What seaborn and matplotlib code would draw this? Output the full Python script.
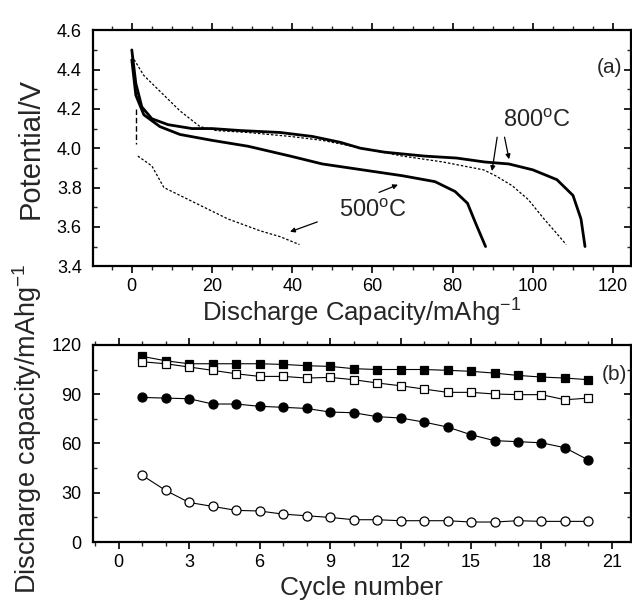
import matplotlib
matplotlib.use("Agg")
import matplotlib.pyplot as plt
import seaborn as sns
import pandas as pd
from matplotlib.ticker import MultipleLocator, FormatStrFormatter

# ---------------------------------------------
# DADOS (a) - curvas de descarga
# ---------------------------------------------
cap_800_solid = [0, 1, 2.5, 5, 9, 15, 20, 27, 37, 45, 52, 57, 63, 73, 81, 88, 94, 100, 106, 110, 112, 113]
pot_800_solid = [4.50, 4.33, 4.21, 4.15, 4.12, 4.10, 4.10, 4.09, 4.08, 4.06, 4.03, 4.00, 3.98, 3.96, 3.95, 3.93, 3.92, 3.89, 3.84, 3.76, 3.64, 3.50]

cap_500_solid = [0, 1, 3, 7, 12, 20, 29, 39.5, 47.5, 57.5, 67.5, 75.6, 80.6, 83.7, 85.7, 88.2]
pot_500_solid = [4.45, 4.27, 4.17, 4.11, 4.07, 4.04, 4.01, 3.96, 3.92, 3.89, 3.86, 3.83, 3.78, 3.72, 3.62, 3.50]

cap_800_dot = [0, 3, 7, 12, 17, 21, 29, 39.5, 47.5, 57.5, 67.5, 77.6, 87.7, 90.7, 94.8, 98.8, 102.8, 105.8, 108.3]
pot_800_dot = [4.47, 4.37, 4.29, 4.19, 4.11, 4.09, 4.08, 4.06, 4.04, 4.00, 3.96, 3.93, 3.89, 3.86, 3.81, 3.74, 3.64, 3.57, 3.51]

# 500 C pontilhada: trecho vertical inicial + queda
cap_500_vert = [1, 1]
pot_500_vert = [4.20, 4.02]
cap_500_dot = [1.5, 5, 8, 14, 20, 24, 32, 37, 41.8]
pot_500_dot = [3.96, 3.91, 3.80, 3.74, 3.68, 3.64, 3.58, 3.55, 3.51]

# ---------------------------------------------
# DADOS (b) - ciclagem
# ---------------------------------------------
ciclos = list(range(1, 21))
sq_cheio = [113, 110.3, 108.5, 108.5, 108.5, 108.5, 108.1, 107.3, 106.9, 105.5,
            105, 105, 105, 104.5, 103.9, 102.8, 101.4, 100.4, 99.8, 98.8]
sq_vazio = [109.7, 108.5, 106.5, 104.5, 102.4, 100.8, 100.8, 99.8, 100.2, 98.8,
            96.8, 95.1, 93.1, 91.1, 91.1, 90.1, 89.7, 89.7, 86.6, 87.6]
circ_cheio = [88, 87.6, 87.2, 84, 84, 82.6, 82, 81.3, 79.1, 78.7,
              76.3, 75.5, 73, 70, 65.3, 61.7, 61.1, 60.4, 57.4, 49.9]
circ_vazio = [40.6, 31.4, 24.1, 21.7, 19.3, 18.9, 17, 16, 15, 13.6,
              13.6, 13, 13, 13, 12.2, 12.2, 13, 12.6, 12.6, 12.6]

# ---------------------------------------------
# ESTILO
# ---------------------------------------------
sns.set_style("ticks")
plt.rcParams["font.family"] = ["Liberation Sans", "DejaVu Sans"]
plt.rcParams["mathtext.fontset"] = "custom"
plt.rcParams["mathtext.rm"] = "Liberation Sans"
plt.rcParams["mathtext.default"] = "rm"

fig = plt.figure(figsize=(6.32, 6.05), dpi=100)
ax1 = fig.add_axes([0.147, 0.560, 0.851, 0.390])
ax2 = fig.add_axes([0.147, 0.104, 0.851, 0.326])

# ---------------------------------------------
# (a)
# ---------------------------------------------
tracejado = (0, (2, 1.5))
sns.lineplot(x=cap_800_solid, y=pot_800_solid, ax=ax1, color="black", lw=2.0, sort=False, estimator=None)
sns.lineplot(x=cap_500_solid, y=pot_500_solid, ax=ax1, color="black", lw=2.0, sort=False, estimator=None)
sns.lineplot(x=cap_800_dot, y=pot_800_dot, ax=ax1, color="black", lw=0.9, ls=tracejado, sort=False, estimator=None)
sns.lineplot(x=cap_500_vert, y=pot_500_vert, ax=ax1, color="black", lw=1.0, ls=(0, (4, 2)), sort=False, estimator=None)
sns.lineplot(x=cap_500_dot, y=pot_500_dot, ax=ax1, color="black", lw=0.9, ls=tracejado, sort=False, estimator=None)

ax1.set_xlim(-9.7, 124.4)
ax1.set_ylim(3.4, 4.6)
ax1.xaxis.set_major_locator(MultipleLocator(20))
ax1.xaxis.set_minor_locator(MultipleLocator(5))
ax1.yaxis.set_major_locator(MultipleLocator(0.2))
ax1.yaxis.set_minor_locator(MultipleLocator(0.1))
ax1.yaxis.set_major_formatter(FormatStrFormatter("%.1f"))
ax1.set_xlabel(r"Discharge Capacity/mAhg$^{-1}$", fontsize=18.5, labelpad=1)
ax1.set_ylabel("Potential/V", fontsize=21)
ax1.yaxis.set_label_coords(-0.089, 0.5)

seta = dict(arrowstyle="-|>", color="black", lw=0.9, mutation_scale=7)
ax1.text(101, 4.14, r"800$^{\rm o}$C", fontsize=17, ha="center", va="center")
ax1.annotate("", xy=(89.7, 3.87), xytext=(91.2, 4.07), arrowprops=seta)
ax1.annotate("", xy=(94.2, 3.93), xytext=(92.8, 4.07), arrowprops=seta)
ax1.text(60, 3.68, r"500$^{\rm o}$C", fontsize=17, ha="center", va="center")
ax1.annotate("", xy=(67, 3.82), xytext=(61, 3.77), arrowprops=seta)
ax1.annotate("", xy=(38.8, 3.57), xytext=(46.9, 3.63), arrowprops=seta)
ax1.text(119, 4.41, "(a)", fontsize=15, ha="center", va="center")

# ---------------------------------------------
# (b)
# ---------------------------------------------
df_b = pd.DataFrame({"ciclo": ciclos, "sq_cheio": sq_cheio, "sq_vazio": sq_vazio,
                     "circ_cheio": circ_cheio, "circ_vazio": circ_vazio})
series = [("sq_cheio", "s", "black"), ("sq_vazio", "s", "white"),
          ("circ_cheio", "o", "black"), ("circ_vazio", "o", "white")]
for col, mk, face in series:
    sns.lineplot(data=df_b, x="ciclo", y=col, ax=ax2, color="black", lw=0.8,
                 marker=mk, markersize=6.5 if mk == "o" else 6, markerfacecolor=face,
                 markeredgecolor="black", markeredgewidth=0.9)

ax2.set_xlim(-1.1, 21.8)
ax2.set_ylim(0, 120)
ax2.xaxis.set_major_locator(MultipleLocator(3))
ax2.xaxis.set_minor_locator(MultipleLocator(1))
ax2.yaxis.set_major_locator(MultipleLocator(30))
ax2.yaxis.set_minor_locator(MultipleLocator(15))
ax2.set_xlabel("Cycle number", fontsize=19, labelpad=4)
ax2.set_ylabel(r"Discharge capacity/mAhg$^{-1}$", fontsize=19.5)
ax2.yaxis.set_label_coords(-0.091, 0.575)
ax2.text(21.1, 102, "(b)", fontsize=15, ha="center", va="center")

for ax in (ax1, ax2):
    for lado in ax.spines.values():
        lado.set_linewidth(1.6)
        lado.set_color("black")
    ax.tick_params(axis="both", which="major", labelsize=13, width=1.2, length=5, colors="black")
    ax.tick_params(axis="both", which="minor", width=1.0, length=3)
    ax.tick_params(axis="y", which="both", direction="in", right=True)
    ax.tick_params(axis="y", which="major", pad=8)
    ax.tick_params(axis="x", which="both", direction="out", top=True)

fig.savefig("out.png", dpi=100)
